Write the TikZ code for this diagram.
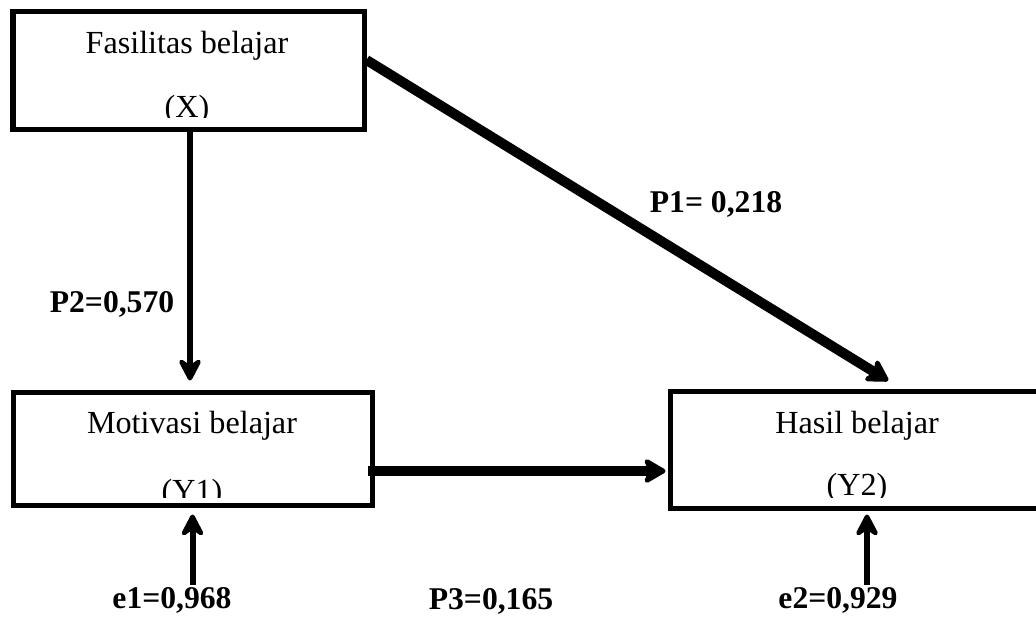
\documentclass[tikz,border=0pt]{standalone}
\usepackage{fontspec}
\setmainfont{Liberation Serif}
\usetikzlibrary{arrows.meta}

\begin{document}
\begin{tikzpicture}[
	box/.style={draw, line width=0.1cm, inner sep=0pt},
	txt/.style={anchor=base, inner sep=0pt, font=\fontsize{18.3}{22}\selectfont},
	lbl/.style={anchor=base, inner sep=1pt, font=\fontsize{18}{21.6}\selectfont\bfseries},
	thin arrow/.style={line width=0.12cm, -{Stealth[length=0.56cm, width=0.58cm, inset=0.2cm, round]}},
	thick arrow/.style={line width=0.2cm, -{Stealth[length=0.52cm, width=0.6cm, inset=0.14cm, round]}}
]
	\useasboundingbox (0,0) rectangle (20.72,12.34);
	\clip (0,0) rectangle (20.72,12.34);

	% boxes
	\node [box, minimum width=7.02cm, minimum height=2.36cm] (fx) at (3.77,10.94) {};
	\node [box, minimum width=7.18cm, minimum height=2.26cm] (my) at (3.85,3.37) {};
	\node [box, minimum width=7.48cm, minimum height=2.34cm] (hb) at (17.14,3.35) {};

	% box texts, cut off at the bottom like a text box
	\begin{scope}
		\clip (0.31,10.0) rectangle (7.23,12.07);
		\node [txt] (fxa) at (3.74,11.28) {Fasilitas belajar};
		\node [txt] (fxb) at (3.74,10.0) {(X)};
	\end{scope}
	\begin{scope}
		\clip (0.31,2.40) rectangle (7.39,4.45);
		\node [txt] (mya) at (3.84,3.68) {Motivasi belajar};
		\node [txt] (myb) at (3.84,2.32) {(Y1)};
	\end{scope}
	\begin{scope}
		\clip (13.45,2.40) rectangle (20.72,4.47);
		\node [txt] (hba) at (17.14,3.68) {Hasil belajar};
		\node [txt] (hbb) at (17.14,2.44) {(Y2)};
	\end{scope}

	% coefficients
	\node [lbl] (p1) at (14.32,8.10) {P1= 0,218};
	\node [lbl] (p2) at (2.24,6.10) {P2=0,570};
	\node [lbl] (p3) at (9.82,0.16) {P3=0,165};
	\node [lbl] (e1) at (3.44,0.18) {e1=0,968};
	\node [lbl] (e2) at (16.76,0.18) {e2=0,929};

	% paths
	\draw [thin arrow, shorten >=0.18cm] ([xshift=0.03cm]fx.south) -- ([xshift=0.03cm]fx.south |- my.north);
	\draw [thick arrow, shorten >=0.3cm] ([yshift=0.2cm]fx.east) -- ([xshift=0.88cm]hb.north);
	\draw [thick arrow, shorten >=0.04cm] ([xshift=-0.14cm,yshift=-0.45cm]my.east) -- ([yshift=-0.45cm]my.east -| hb.west);
	\draw [thin arrow, shorten >=0.14cm] (my.south |- e1.north) -- (my.south);
	\draw [thin arrow, shorten >=0.08cm] ([xshift=0.2cm]hb.south |- e2.north) -- ([xshift=0.2cm]hb.south);
\end{tikzpicture}
\end{document}
